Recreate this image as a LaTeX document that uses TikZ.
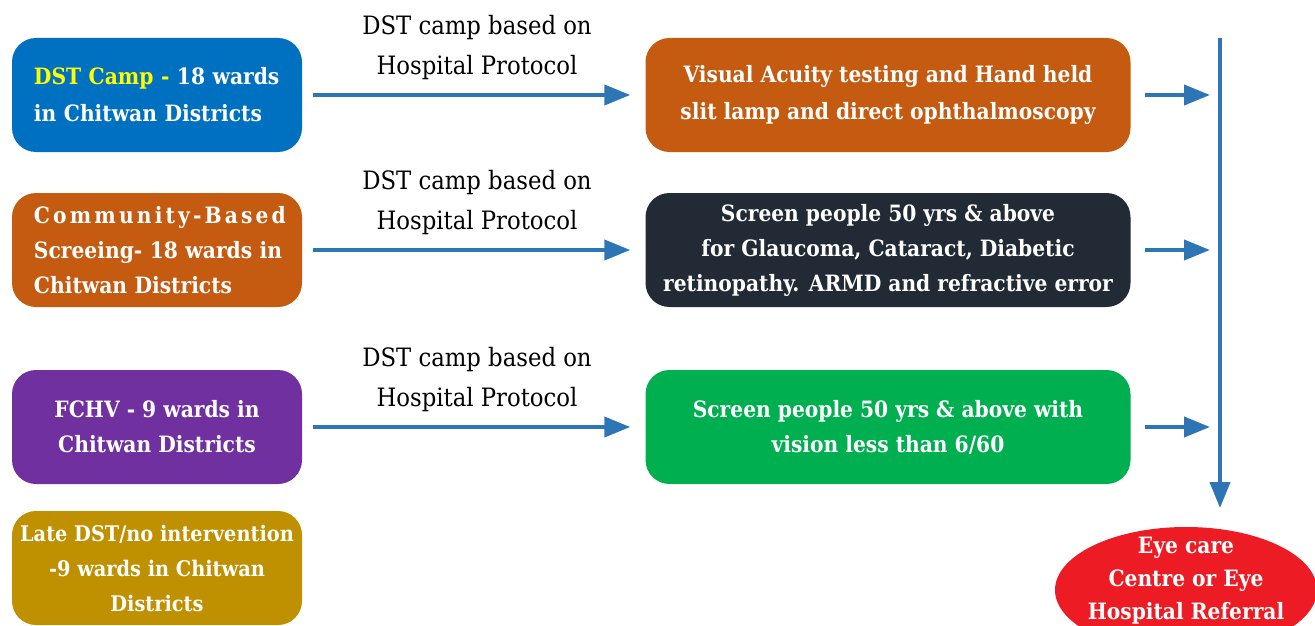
\documentclass[tikz,border=0pt]{standalone}
\usepackage{fontspec}
\setmainfont{DejaVu Serif Condensed}
\usetikzlibrary{arrows.meta,shapes.geometric}
\definecolor{cblue}{HTML}{0070C0}
\definecolor{corange}{HTML}{C55A11}
\definecolor{cpurple}{HTML}{7030A0}
\definecolor{cgold}{HTML}{BF9000}
\definecolor{cdark}{HTML}{222A35}
\definecolor{cgreen}{HTML}{00B050}
\definecolor{cred}{HTML}{ED1C24}
\definecolor{carrow}{HTML}{2E75B6}
\definecolor{cyellow}{HTML}{FFFF00}
\tikzset{
  box/.style={rounded corners=24pt, text=white, font=\bfseries\fontsize{22.5}{35}\selectfont, align=center, inner sep=0pt},
  leftbox/.style={box, minimum width=290pt, minimum height=114pt},
  midbox/.style={box, minimum width=485pt, minimum height=114pt},
  arr/.style={draw=carrow, line width=4pt, -{Triangle[length=26pt,width=20pt]}},
  lbl/.style={font=\fontsize{25.3}{40}\selectfont, align=center, inner sep=0pt}
}
\begin{document}
\begin{tikzpicture}[x=1pt,y=-1pt]
\useasboundingbox (0,0) rectangle (1315,626);
\clip (0,0) rectangle (1315,626);
% left boxes
\node[leftbox, fill=cblue, text width=246pt, align=left] (b1) at (157,95)
  {\mbox{{\color{cyellow}DST Camp -} 18 wards}\\[2pt]\mbox{in Chitwan Districts}};
\node[leftbox, fill=corange, text width=246pt, align=left] (b2) at (157,250)
  {\mbox{\addfontfeature{LetterSpace=14}Community-Based}\\\mbox{Screeing- 18 wards in}\\\mbox{Chitwan Districts}};
\node[leftbox, fill=cpurple] (b3) at (157,427)
  {FCHV - 9 wards in\\Chitwan Districts};
\node[leftbox, fill=cgold, font=\bfseries\fontsize{21.5}{35}\selectfont] (b4) at (157,568)
  {Late DST/no intervention\\-9 wards in Chitwan\\Districts};
% middle boxes
\node[midbox, fill=corange] (m1) at (888,95)
  {Visual Acuity testing and Hand held\\[2pt]slit lamp and direct ophthalmoscopy};
\node[midbox, fill=cdark] (m2) at (888,250)
  {Screen people 50 yrs \& above\\for Glaucoma, Cataract, Diabetic\\retinopathy. ARMD and refractive error};
\node[midbox, fill=cgreen] (m3) at (888,427)
  {Screen people 50 yrs \& above with\\vision less than 6/60};
% labels
\node[lbl] (l1) at (477,48) {DST camp based on\\Hospital Protocol};
\node[lbl] (l2) at (477,203) {DST camp based on\\Hospital Protocol};
\node[lbl] (l3) at (477,380) {DST camp based on\\Hospital Protocol};
% arrows left -> middle
\draw[arr] ([xshift=11pt]b1.east) -- ([xshift=-15pt]m1.west);
\draw[arr] ([xshift=11pt]b2.east) -- ([xshift=-15pt]m2.west);
\draw[arr] ([xshift=11pt]b3.east) -- ([xshift=-15pt]m3.west);
% vertical collector
\coordinate (vtop) at (1220,38);
\coordinate (vbot) at (1220,508);
\draw[arr] ([xshift=14pt]m1.east) -- (1210,95);
\draw[arr] ([xshift=14pt]m2.east) -- (1210,250);
\draw[arr] ([xshift=14pt]m3.east) -- (1210,427);
\draw[arr] (vtop) -- (vbot);
% ellipse
\node[ellipse, fill=cred, minimum width=262pt, minimum height=126pt, inner sep=0pt] (e) at (1186,590) {};
\node[box, font=\bfseries\fontsize{22.5}{33}\selectfont] (et) at (1186,581) {Eye care\\Centre or Eye\\Hospital Referral};
\end{tikzpicture}
\end{document}
